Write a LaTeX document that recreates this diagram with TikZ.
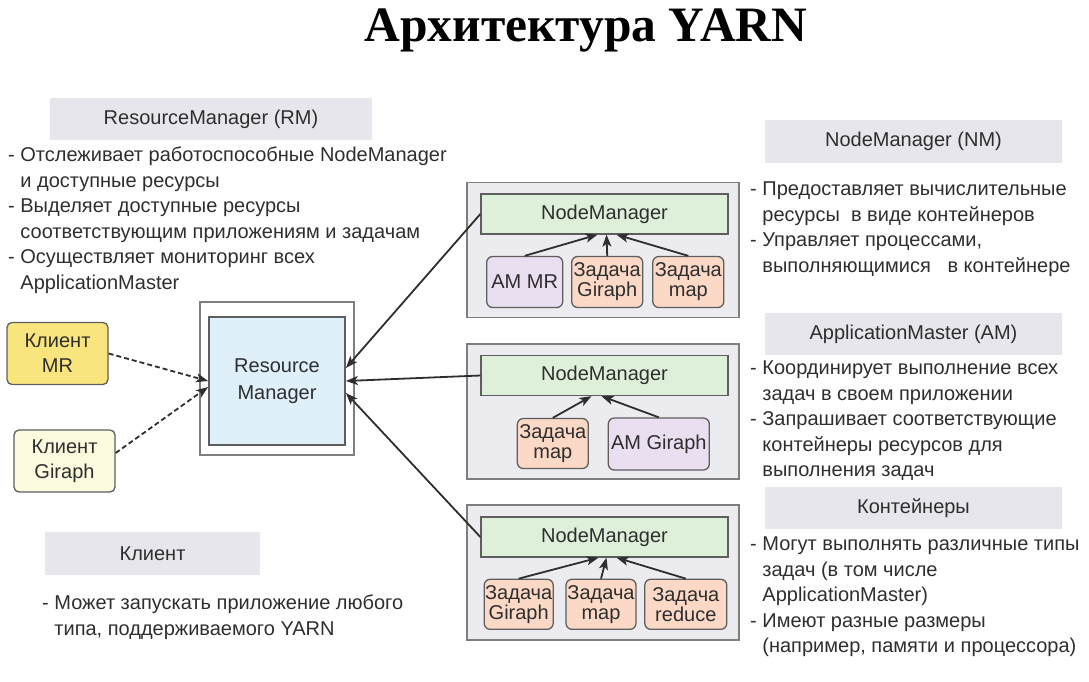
\documentclass[tikz,border=0pt]{standalone}
\usepackage{fontspec}
\setmainfont{Liberation Sans}
\newfontfamily\titlefont{Liberation Serif}
\usetikzlibrary{arrows.meta}

\definecolor{hdrgray}{HTML}{E6E6EC}
\definecolor{boxgray}{HTML}{ECECF0}
\definecolor{nmgreen}{HTML}{DFF0DA}
\definecolor{ampurple}{HTML}{EADFF0}
\definecolor{taskpeach}{HTML}{FBD9C6}
\definecolor{mryellow}{HTML}{F9E57E}
\definecolor{girlight}{HTML}{FDFBDF}
\definecolor{rmblue}{HTML}{DFF0FB}
\definecolor{txt}{HTML}{2E2E2E}
\definecolor{edge}{HTML}{5E5E5E}

\newcommand{\contline}{\phantom{- }}

\tikzstyle{header} = [rectangle, fill=hdrgray, minimum height=42pt, text centered, inner sep=0pt, text=txt, font=\fontsize{20}{20}\selectfont]
\tikzstyle{notes} = [anchor=north west, align=left, inner sep=0pt, text=txt, font=\fontsize{20}{25.5}\selectfont]
\tikzstyle{client} = [rectangle, rounded corners=5pt, draw=edge, line width=1.3pt, minimum width=101pt, minimum height=62pt, align=center, text=txt, font=\fontsize{20}{25}\selectfont]
\tikzstyle{host} = [rectangle, draw=edge!80, fill=boxgray, line width=1.3pt, minimum width=272pt, minimum height=135pt]
\tikzstyle{nm} = [rectangle, draw=edge, fill=nmgreen, line width=1.3pt, minimum width=247pt, minimum height=40pt, text=txt, font=\fontsize{20}{20}\selectfont]
\tikzstyle{task} = [rectangle, rounded corners=6pt, draw=edge, fill=taskpeach, line width=1.3pt, minimum width=71pt, minimum height=51pt, align=center, inner sep=0pt, text=txt, font=\fontsize{20}{20}\selectfont]
\tikzstyle{am} = [task, fill=ampurple]
\tikzstyle{arrow} = [line width=1.8pt, draw=txt, -{Stealth[length=12pt, width=9pt, inset=3pt]}]
\tikzstyle{dasharrow} = [arrow, dash pattern=on 5pt off 3pt]

\begin{document}
\begin{tikzpicture}[x=1pt, y=-1pt]
\useasboundingbox (0,0) rectangle (1089,682);

\node (title) [anchor=base, font=\titlefont\bfseries\fontsize{49.5}{49.5}\selectfont] at (586,42) {Архитектура YARN};

% left column
\node (rmhead) [header, minimum width=322pt] at (211,119) {ResourceManager (RM)};
\node (rmnotes) [notes] at (8,147) {- Отслеживает работоспособные NodeManager\\
\contline и доступные ресурсы\\
- Выделяет доступные ресурсы\\
\contline соответствующим приложениям и задачам\\
- Осуществляет мониторинг всех\\
\contline ApplicationMaster};

\node (mr) [client, fill=mryellow] at (57.5,353.5) {Клиент\\MR};
\node (gir) [client, fill=girlight] at (64.5,461) {Клиент\\Giraph};

\node (rmframe) [rectangle, draw=edge!80, fill=white, line width=1.3pt, minimum width=154pt, minimum height=153pt] at (277,378.5) {};
\node (rm) [rectangle, draw=edge, fill=rmblue, line width=1.8pt, minimum width=136pt, minimum height=128pt, align=center, text=txt, font=\fontsize{20}{27}\selectfont] at (277,381) {Resource\\Manager};

\node (clhead) [header, minimum width=215pt, minimum height=43pt] at (152.5,553.5) {Клиент};
\node (clnotes) [notes] at (42,595) {- Может запускать приложение любого\\
\contline типа, поддерживаемого YARN};

% node managers
\node (host1) [host] at (603,250) {};
\node (nm1) [nm] at (604.5,214) {NodeManager};
\node (amr) [am, minimum width=76pt] at (524.7,282) {AM MR};
\node (gir1) [task] at (607.2,282) {Задача\\Giraph};
\node (map1) [task] at (688.3,282) {Задача\\map};

\node (host2) [host] at (603,411.5) {};
\node (nm2) [nm] at (604.5,375.5) {NodeManager};
\node (map2) [task, minimum height=50pt] at (552.8,443.5) {Задача\\map};
\node (amg) [am, minimum width=101pt, minimum height=52pt] at (658.8,444) {AM Giraph};

\node (host3) [host] at (603,572.5) {};
\node (nm3) [nm] at (604.5,537) {NodeManager};
\node (gir3) [task, minimum width=69pt, minimum height=50pt] at (518.7,604.3) {Задача\\Giraph};
\node (map3) [task, minimum width=70pt, minimum height=50pt] at (601,604.3) {Задача\\map};
\node (red3) [task, minimum width=82pt, minimum height=50pt] at (685.8,604.3) {Задача\\reduce};

% right column
\node (nmhead) [header, minimum width=297pt] at (913.5,141.5) {NodeManager (NM)};
\node (nmnotes) [notes] at (750,182) {- Предоставляет вычислительные\\
\contline ресурсы~ в виде контейнеров\\
- Управляет процессами,\\
\contline выполняющимися~~ в контейнере};

\node (amhead) [header, minimum width=297pt] at (913.5,334) {ApplicationMaster (AM)};
\node (amnotes) [notes] at (750,361) {- Координирует выполнение всех\\
\contline задач в своем приложении\\
- Запрашивает соответствующие\\
\contline контейнеры ресурсов для\\
\contline выполнения задач};

\node (cthead) [header, minimum width=297pt] at (913.5,508) {Контейнеры};
\node (ctnotes) [notes] at (750,537) {- Могут выполнять различные типы\\
\contline задач (в том числе\\
\contline ApplicationMaster)\\
- Имеют разные размеры\\
\contline (например, памяти и процессора)};

% connectors
\draw [dasharrow] (mr.east) -- (rm.west);
\draw [dasharrow] ([yshift=8pt]gir.east) -- ([yshift=-6pt]rm.west);
\draw [arrow] (nm1.west) -- ([yshift=13pt]rm.east);
\draw [arrow] (nm2.west) -- (rm.east);
\draw [arrow] (nm3.west) -- ([yshift=-12pt]rm.east);
\draw [arrow] (amr.north) -- ([xshift=-7pt]nm1.south);
\draw [arrow] (gir1.north) -- ([xshift=2pt]nm1.south);
\draw [arrow] (map1.north) -- ([xshift=12pt]nm1.south);
\draw [arrow] (map2.north) -- ([xshift=-13pt]nm2.south);
\draw [arrow] (amg.north) -- ([xshift=-3pt]nm2.south);
\draw [arrow] (gir3.north) -- ([xshift=-6pt]nm3.south);
\draw [arrow] (map3.north) -- ([xshift=2pt]nm3.south);
\draw [arrow] (red3.north) -- ([xshift=12pt]nm3.south);
\end{tikzpicture}
\end{document}
